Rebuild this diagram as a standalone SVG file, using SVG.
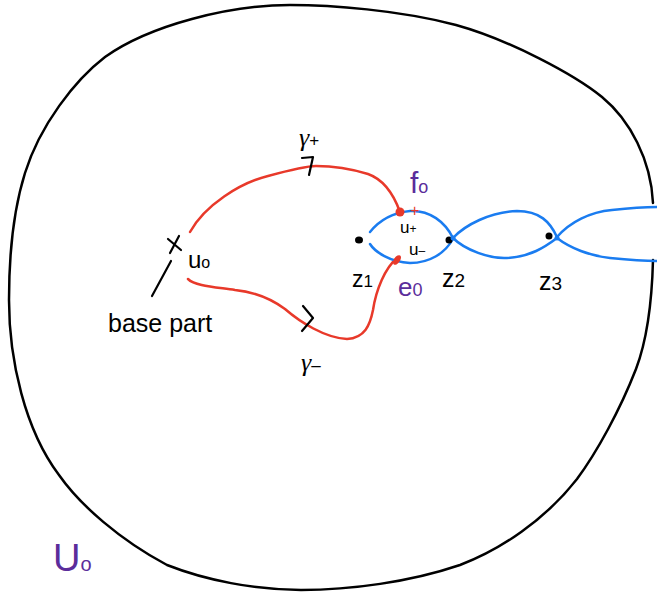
<svg xmlns="http://www.w3.org/2000/svg" width="657" height="592" viewBox="0 0 657 592">
<style>
.bd{fill:none;stroke:#000;stroke-width:2.5;stroke-linecap:round}
.rd{fill:none;stroke:#e8392a;stroke-width:2.5;stroke-linecap:round}
.bl{fill:none;stroke:#1a7cf0;stroke-width:2.5;stroke-linecap:round}
.ink{fill:none;stroke:#000;stroke-width:2.2;stroke-linecap:round;stroke-linejoin:round}
.t{font-family:"Liberation Sans","DejaVu Sans",sans-serif;fill:#000}
.g{font-family:"Liberation Serif","DejaVu Serif",serif;font-style:italic}
.p{fill:#5b2d9b}
</style>
<rect width="657" height="592" fill="#fff"/>
<g id="boundary">
<path class="bd" d="M653,203 C651,160 630,120 602,97 C575,75 510,40 456,25 C400,10 330,5 290,5 C230,5 150,25 105,57 C75,80 40,125 25,173 C15,205 9,250 9,300 C9,360 25,430 59,475 C80,505 120,540 167,565 C205,580 255,590 301,590 C350,590 410,582 460,565 C500,550 545,520 577,479 C597,452 620,410 636,369 C647,340 652,300 653,260"/>
</g>
<g id="connectors">
<path id="gamma-plus" class="rd" d="M190,232 C205,205 240,183 268,176 C290,170 305,166 316,166 C340,166 355,170 368,174 C385,180 395,198 400,212"/>
<path id="gamma-minus" class="rd" d="M188,279 C195,286 215,287 235,290 C255,292 270,298 285,309 C300,322 325,338 347,339 C365,338 370,325 373,310 C376,290 385,268 397,258"/>
<path class="bl" d="M370,232 C378,222 390,213 410,211 C430,210 445,222 453,238"/>
<path class="bl" d="M370,244 C375,252 390,262 410,263 C430,263 445,253 453,239"/>
<path class="bl" d="M453,238 C465,225 490,212 517,211 C540,211 550,222 557,237"/>
<path class="bl" d="M453,238 C465,250 490,259 507,258 C530,257 545,247 557,238"/>
<path class="bl" d="M557,237 C570,222 590,212 612,210 C630,208 645,207 657,207"/>
<path class="bl" d="M557,238 C570,248 590,256 610,258 C630,260 645,261 657,261"/>
<path class="ink" d="M302,158 L313,157 L309,175"/>
<path class="ink" d="M303,306 L313,318 L302,331"/>
<path class="ink" d="M152,296 L171,261"/>
</g>
<g id="u0">
<path class="ink" d="M168,239 L181,250 M179,236 L170,253"/>
<text class="t" x="188" y="268" font-size="24">u<tspan font-size="16">o</tspan></text>
</g>
<g id="base-part">
<text class="t" x="108" y="332" font-size="25">base part</text>
</g>
<g id="gamma-labels">
<text class="t" x="299" y="146" font-size="22"><tspan class="g" font-size="26">γ</tspan><tspan font-size="17">+</tspan></text>
<text class="t" x="301" y="371" font-size="22"><tspan class="g" font-size="26">γ</tspan><tspan font-size="17">–</tspan></text>
</g>
<g id="z1">
<ellipse cx="359" cy="240" rx="4" ry="3.5" fill="#000"/>
<text class="t" x="352" y="287" font-size="23">z<tspan font-size="17">1</tspan></text>
</g>
<g id="z2">
<ellipse cx="449" cy="240" rx="3.5" ry="3.5" fill="#000"/>
<circle cx="453" cy="238" r="2.5" fill="#1a7cf0"/>
<text class="t" x="442" y="287" font-size="25">z<tspan font-size="19">2</tspan></text>
</g>
<g id="z3">
<ellipse cx="549" cy="236" rx="3.5" ry="3.5" fill="#000"/>
<circle cx="557" cy="238" r="2.5" fill="#1a7cf0"/>
<text class="t" x="539" y="290" font-size="25">z<tspan font-size="19">3</tspan></text>
</g>
<g id="u-plus">
<circle cx="400" cy="212" r="4.5" fill="#e8392a"/>
<text x="410" y="216" font-size="16" font-family="Liberation Sans,sans-serif" fill="#e8392a">+</text>
<text class="t" x="400" y="233" font-size="17">u<tspan font-size="12">+</tspan></text>
</g>
<g id="u-minus">
<ellipse cx="397" cy="260" rx="5.5" ry="3" fill="#e8392a" transform="rotate(-55 397 260)"/>
<text class="t" x="409" y="255" font-size="17">u<tspan font-size="12">–</tspan></text>
</g>
<g id="f0">
<text class="t p" x="410" y="193" font-size="30">f<tspan font-size="18">o</tspan></text>
</g>
<g id="e0">
<text class="t p" x="398" y="296" font-size="26">e<tspan font-size="18">0</tspan></text>
</g>
<g id="U0">
<text class="t p" x="53" y="571" font-size="38">U<tspan font-size="20">o</tspan></text>
</g>
</svg>
